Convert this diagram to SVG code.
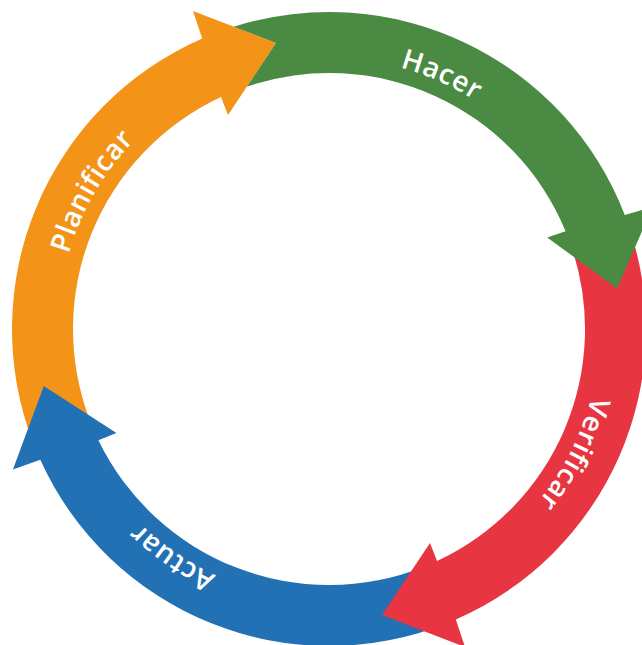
<svg xmlns="http://www.w3.org/2000/svg" xmlns:xlink="http://www.w3.org/1999/xlink" width="642" height="645" viewBox="0 0 642 645">
<style>
.lbl{font-family:"Open Sans","Liberation Sans",sans-serif;font-weight:600;font-size:28px;fill:#ffffff;letter-spacing:0.6px}
</style>
<defs>
<path id="ring" d="M 329 58 A 271 271 0 1 1 329 600 A 271 271 0 1 1 329 58"/>
</defs>
<rect width="642" height="645" fill="#ffffff"/>
<g id="connectors"></g>
<g id="node-planificar">
<path fill="#F39419" d="M 33.05 442.6 A 317 317 0 0 1 202.2 38.5 L 193 11 L 276 43 L 228 115 L 221 96.9 A 256 256 0 0 0 90 420.7 Z"/>
<text class="lbl" text-anchor="middle"><textPath xlink:href="#ring" href="#ring" startOffset="1419">Planificar</textPath></text>
</g>
<g id="node-actuar">
<path fill="#2271B5" transform="rotate(-0.8 329 329)" d="M 442.6 624.95 A 317 317 0 0 1 38.5 455.8 L 11 465 L 43 382 L 115 430 L 96.9 437 A 256 256 0 0 0 420.7 568 Z"/>
<text class="lbl" text-anchor="middle"><textPath xlink:href="#ring" href="#ring" startOffset="1014">Actuar</textPath></text>
</g>
<g id="node-verificar">
<path fill="#E73541" d="M 628.7 225.8 A 317 317 0 0 1 455.8 619.5 L 465 647 L 382 615 L 430 543 L 437 561.1 A 256 256 0 0 0 571.1 245.7 Z"/>
<text class="lbl" text-anchor="middle"><textPath xlink:href="#ring" href="#ring" startOffset="553">Verificar</textPath></text>
</g>
<g id="node-hacer">
<path fill="#4A8A42" d="M 233.66 26.68 A 317 317 0 0 1 624.75 215 L 652.6 207 L 617 288.5 L 547.2 237.4 L 565.6 231.2 A 256 256 0 0 0 247 86.5 L 276 43 Z"/>
<text class="lbl" text-anchor="middle"><textPath xlink:href="#ring" href="#ring" startOffset="113">Hacer</textPath></text>
</g>
</svg>
